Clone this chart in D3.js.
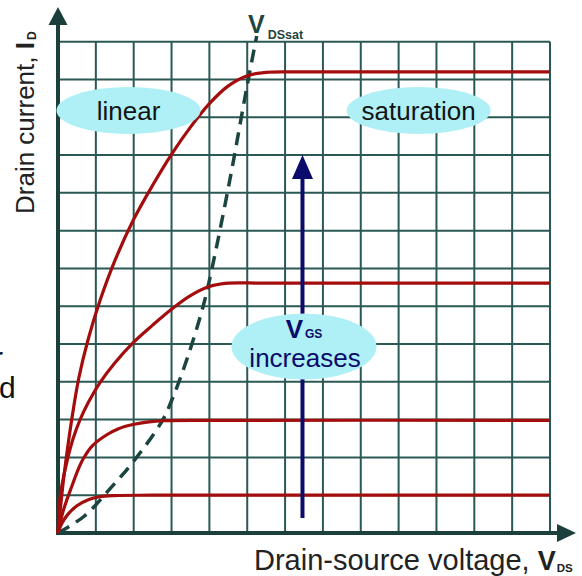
<!DOCTYPE html>
<html>
<head>
<meta charset="utf-8">
<script src="https://cdn.jsdelivr.net/npm/d3@7"></script>
<style>
  html, body { margin: 0; padding: 0; background: #fff; }
  svg { display: block; font-family: "Liberation Sans", Arial, sans-serif; }
</style>
</head>
<body>
<svg id="chart" width="582" height="576"></svg>
<script>
// Output characteristics of a MOSFET, in grid units (13 x 13 divisions)
const gridCols = d3.range(0, 14);
const gridRows = d3.range(0, 14);

// Drain current curves for increasing gate-source voltage
const curveLow = [[0,0],[0.1,0.25],[0.25,0.48],[0.5,0.72],[0.8,0.88],[1.1,0.96],[1.5,0.99],[2.5,1.0],[13,1.0]];
const curveMid = [[0,0],[0.1,0.45],[0.2,0.78],[0.37,1.25],[0.5,1.6],[0.66,1.95],[0.9,2.3],[1.29,2.6],[1.6,2.76],[1.98,2.87],[2.4,2.94],[2.8,2.97],[4,2.98],[13,2.98]];
const curveHigh = [[0,0],[0.05,0.9],[0.12,1.35],[0.25,1.95],[0.4,2.5],[0.58,2.99],[0.8,3.45],[1.11,3.98],[1.5,4.5],[2.0,5.05],[2.5,5.5],[3.0,5.92],[3.5,6.28],[4.0,6.52],[4.5,6.61],[5.5,6.61],[13,6.61]];
const curveTop = [[0,0],[0.1,1.0],[0.2,1.85],[0.37,3.05],[0.55,4.1],[0.79,5.1],[1.11,6.15],[1.5,7.2],[2.0,8.3],[2.5,9.2],[3.0,10.02],[3.5,10.74],[4.0,11.36],[4.5,11.83],[5.0,12.1],[5.5,12.19],[6.5,12.2],[13,12.2]];
const idCurves = [curveLow, curveMid, curveHigh, curveTop];

// Saturation boundary V_DSsat through the knees
const vdsSat = [[0,0],[0.7,0.45],[1.4,1.2],[2.0,1.9],[2.75,2.96],[3.0,3.5],[3.4,4.58],[3.83,5.98],[4.06,6.96],[4.54,9.34],[4.99,11.8],[5.25,13.15]];

// Arrow showing increasing V_GS
const vgsArrow = [[6.46,0.4],[6.46,10.0]];

const svg = d3.select("#chart");
const x = d3.scaleLinear().domain([0, 13]).range([58, 550]);
const y = d3.scaleLinear().domain([0, 13]).range([533, 41.7]);

const gridColor = "#2a5854";
const axisColor = "#1b403c";
const red = "#a30d0d";
const navy = "#0b0b6b";
const bubble = "#aef0f6";

// grid
const grid = svg.append("g");
grid.selectAll("line.v").data(gridCols).join("line")
  .attr("x1", d => x(d)).attr("x2", d => x(d))
  .attr("y1", y(0)).attr("y2", y(13))
  .attr("stroke", gridColor).attr("stroke-width", 2);
grid.selectAll("line.h").data(gridRows).join("line")
  .attr("x1", x(0)).attr("x2", x(13))
  .attr("y1", d => y(d)).attr("y2", d => y(d))
  .attr("stroke", gridColor).attr("stroke-width", 2);

// axes with arrowheads
svg.append("line").attr("x1", x(0)).attr("x2", x(0)).attr("y1", y(0) + 2).attr("y2", 22)
  .attr("stroke", axisColor).attr("stroke-width", 4);
svg.append("path").attr("d", `M${x(0)},7 L${x(0) - 9.5},25 L${x(0) + 9.5},25 Z`).attr("fill", axisColor);
svg.append("line").attr("x1", x(0) - 2).attr("x2", 560).attr("y1", y(0)).attr("y2", y(0))
  .attr("stroke", axisColor).attr("stroke-width", 4);
svg.append("path").attr("d", `M576,${y(0)} L557,${y(0) - 9} L557,${y(0) + 9} Z`).attr("fill", axisColor);

const line = d3.line().x(d => x(d[0])).y(d => y(d[1])).curve(d3.curveCatmullRom.alpha(0.5));

// V_DS(sat) boundary
svg.append("path").datum(vdsSat).attr("d", line)
  .attr("fill", "none").attr("stroke", "#1b4540").attr("stroke-width", 3.5)
  .attr("stroke-dasharray", "13,8");

// I_D curves
svg.selectAll("path.id").data(idCurves).join("path")
  .attr("class", "id").attr("d", line)
  .attr("fill", "none").attr("stroke", red).attr("stroke-width", 3.2);

// V_GS arrow
svg.append("line")
  .attr("x1", x(vgsArrow[0][0])).attr("x2", x(vgsArrow[1][0]))
  .attr("y1", y(vgsArrow[0][1])).attr("y2", y(vgsArrow[1][1]) + 20)
  .attr("stroke", navy).attr("stroke-width", 4);
const ax = x(vgsArrow[1][0]), ay = y(vgsArrow[1][1]);
svg.append("path").attr("d", `M${ax},${ay} L${ax - 10.5},${ay + 24} L${ax + 10.5},${ay + 24} Z`).attr("fill", navy);

// region labels
svg.append("ellipse").attr("cx", 128.5).attr("cy", 110.5).attr("rx", 72).attr("ry", 23.5).attr("fill", bubble);
svg.append("text").attr("x", 128.5).attr("y", 119.5).attr("text-anchor", "middle")
  .attr("font-size", 26).attr("fill", "#141414").text("linear");

svg.append("ellipse").attr("cx", 418.7).attr("cy", 110.5).attr("rx", 72).attr("ry", 23.5).attr("fill", bubble);
svg.append("text").attr("x", 418.7).attr("y", 119.5).attr("text-anchor", "middle")
  .attr("font-size", 26).attr("fill", "#141414").text("saturation");

svg.append("ellipse").attr("cx", 304).attr("cy", 346.5).attr("rx", 72.5).attr("ry", 33).attr("fill", bubble);
const vgs = svg.append("text").attr("x", 304).attr("y", 337.5).attr("text-anchor", "middle").attr("fill", navy);
vgs.append("tspan").attr("font-size", 26).attr("font-weight", "bold").text("V");
vgs.append("tspan").attr("font-size", 12).attr("font-weight", "bold").attr("dx", 2).text("GS");
svg.append("text").attr("x", 305).attr("y", 367).attr("text-anchor", "middle")
  .attr("font-size", 26).attr("fill", navy).text("increases");

// V_DSsat label
const sat = svg.append("text").attr("x", 248).attr("y", 33).attr("fill", "#1d4542");
sat.append("tspan").attr("font-size", 25).attr("font-weight", "bold").text("V");
sat.append("tspan").attr("font-size", 12.5).attr("font-weight", "bold").attr("dx", 3).attr("dy", 6).text("DSsat");

// axis titles
const xt = svg.append("text").attr("x", 254).attr("y", 570).attr("fill", "#222").attr("font-size", 29);
xt.append("tspan").text("Drain-source voltage, ");
xt.append("tspan").attr("font-size", 27).attr("font-weight", "bold").text("V");
xt.append("tspan").attr("font-size", 11.5).attr("font-weight", "bold").attr("dx", 1).attr("dy", 2).text("DS");

const yt = svg.append("text").attr("transform", "translate(34,214) rotate(-90)").attr("fill", "#222").attr("font-size", 26);
yt.append("tspan").text("Drain current, ");
yt.append("tspan").attr("font-weight", "bold").text("I");
yt.append("tspan").attr("font-size", 12).attr("font-weight", "bold").attr("dx", 2).attr("dy", 2).text("D");

// clipped slide text at the left edge
svg.append("text").attr("x", -7).attr("y", 368).attr("font-size", 30).attr("fill", "#111").text("r");
svg.append("text").attr("x", -1).attr("y", 398).attr("font-size", 30).attr("fill", "#111").text("d");
</script>
</body>
</html>
